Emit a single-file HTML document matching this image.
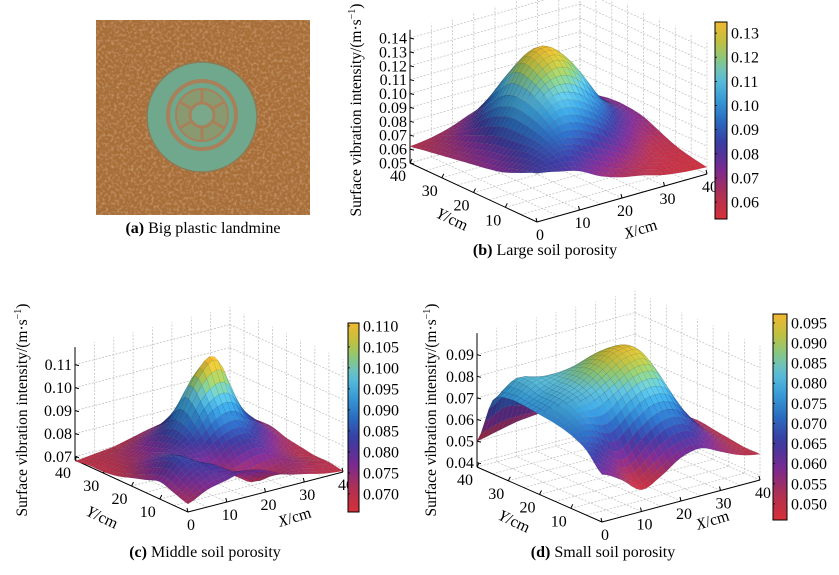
<!DOCTYPE html>
<html><head><meta charset="utf-8"><style>
html,body{margin:0;padding:0;background:#fff;}
svg{display:block;font-family:"Liberation Serif",serif;}
</style></head><body>
<svg id="fig" width="839" height="575" viewBox="0 0 839 575">
<defs>
<filter id="sand" x="0" y="0" width="100%" height="100%">
<feTurbulence type="fractalNoise" baseFrequency="0.35" numOctaves="2" seed="3" result="n"/>
<feColorMatrix in="n" type="matrix" values="0 0 0 0 0.72  0 0 0 0 0.45  0 0 0 0 0.24  0 0 0 1.2 -0.55" result="c"/>
<feComposite in="c" in2="SourceGraphic" operator="atop"/>
</filter>
</defs>
<g>
<rect x="96" y="20" width="214" height="195" fill="#b57a40"/>
<rect x="96" y="20" width="214" height="195" fill="#a86e38" filter="url(#sand)"/>
<circle cx="202" cy="117" r="55" fill="#6fa88c" stroke="#8c7a55" stroke-width="1.5"/>
<circle cx="202" cy="115" r="34" fill="none" stroke="#a8805a" stroke-width="4"/>
<circle cx="202" cy="115" r="26" fill="#8a9a70" stroke="#a8805a" stroke-width="2"/>
<circle cx="202" cy="115" r="12" fill="#7aa88a" stroke="#a8805a" stroke-width="3"/>
<g stroke="#a8805a" stroke-width="3">
<line x1="202" y1="89" x2="202" y2="103"/><line x1="202" y1="127" x2="202" y2="141"/>
<line x1="180" y1="102" x2="192" y2="109"/><line x1="212" y1="121" x2="224" y2="128"/>
<line x1="180" y1="128" x2="192" y2="121"/><line x1="212" y1="109" x2="224" y2="102"/>
</g>
</g>
<text x="203" y="233" text-anchor="middle" font-size="16"><tspan font-weight="bold">(a)</tspan> Big plastic landmine</text>
<text x="545" y="255" text-anchor="middle" font-size="16"><tspan font-weight="bold">(b)</tspan> Large soil porosity</text>
<text x="205" y="557" text-anchor="middle" font-size="16"><tspan font-weight="bold">(c)</tspan> Middle soil porosity</text>
<text x="603" y="557" text-anchor="middle" font-size="16"><tspan font-weight="bold">(d)</tspan> Small soil porosity</text>
</svg>
<script>
// grid axes: Y = 0..40 step 5 (rows), X = 0..40 step 5 (cols)
const gridCoords = [0,5,10,15,20,25,30,35,40];
const axisTicksXY = [0,10,20,30,40];
const zTicksB = [0.05,0.06,0.07,0.08,0.09,0.10,0.11,0.12,0.13,0.14];
const zTicksC = [0.07,0.08,0.09,0.10,0.11];
const zTicksD = [0.04,0.05,0.06,0.07,0.08,0.09];
const cTicksB = [0.06,0.07,0.08,0.09,0.10,0.11,0.12,0.13];
const cTicksC = [0.070,0.075,0.080,0.085,0.090,0.095,0.100,0.105,0.110];
const cTicksD = [0.050,0.055,0.060,0.065,0.070,0.075,0.080,0.085,0.090,0.095];
const surfaceB = [
[0.085,0.082,0.078,0.070,0.065,0.062,0.058,0.056,0.055],
[0.080,0.085,0.088,0.082,0.075,0.068,0.062,0.058,0.057],
[0.075,0.085,0.095,0.098,0.092,0.082,0.070,0.062,0.060],
[0.072,0.082,0.100,0.112,0.110,0.098,0.082,0.070,0.065],
[0.070,0.080,0.102,0.122,0.128,0.115,0.092,0.078,0.070],
[0.068,0.076,0.098,0.125,0.133,0.120,0.095,0.080,0.072],
[0.066,0.072,0.088,0.110,0.118,0.105,0.088,0.078,0.072],
[0.064,0.068,0.076,0.090,0.095,0.090,0.080,0.074,0.070],
[0.062,0.064,0.068,0.074,0.078,0.076,0.072,0.070,0.068]];
const surfaceC = [
[0.072,0.076,0.078,0.080,0.078,0.074,0.072,0.070,0.069],
[0.074,0.080,0.082,0.076,0.070,0.072,0.074,0.072,0.070],
[0.076,0.084,0.080,0.074,0.078,0.080,0.076,0.072,0.070],
[0.074,0.082,0.080,0.080,0.085,0.086,0.080,0.074,0.071],
[0.072,0.078,0.080,0.086,0.096,0.098,0.086,0.078,0.072],
[0.070,0.074,0.078,0.088,0.105,0.111,0.090,0.080,0.074],
[0.069,0.072,0.076,0.082,0.090,0.090,0.084,0.078,0.074],
[0.069,0.071,0.073,0.076,0.080,0.080,0.078,0.076,0.073],
[0.068,0.069,0.070,0.072,0.074,0.075,0.074,0.073,0.072]];
const surfaceD = [
[0.060,0.055,0.048,0.052,0.058,0.060,0.056,0.052,0.050],
[0.068,0.062,0.055,0.062,0.068,0.068,0.060,0.054,0.050],
[0.072,0.072,0.068,0.075,0.080,0.078,0.066,0.056,0.051],
[0.074,0.078,0.080,0.085,0.090,0.088,0.070,0.058,0.052],
[0.075,0.080,0.084,0.090,0.095,0.093,0.074,0.060,0.053],
[0.076,0.080,0.084,0.088,0.092,0.090,0.072,0.058,0.052],
[0.076,0.082,0.082,0.082,0.084,0.082,0.068,0.056,0.050],
[0.072,0.078,0.074,0.070,0.072,0.070,0.062,0.054,0.049],
[0.050,0.052,0.054,0.055,0.056,0.056,0.054,0.050,0.048]];

const NS = 'http://www.w3.org/2000/svg';
const svg = document.getElementById('fig');
function mk(tag, attrs, parent){const e=document.createElementNS(NS,tag);for(const k in attrs)e.setAttribute(k,attrs[k]);(parent||svg).appendChild(e);return e;}
const stops=[[0,[215,48,58]],[0.12,[176,48,80]],[0.25,[122,42,144]],[0.38,[58,58,160]],[0.5,[42,108,192]],[0.62,[58,160,216]],[0.72,[96,192,216]],[0.82,[140,200,120]],[0.9,[192,192,64]],[1,[240,184,48]]];
function cmap(t){t=Math.max(0,Math.min(1,t));for(let i=1;i<stops.length;i++){if(t<=stops[i][0]){const a=stops[i-1],b=stops[i];const f=(t-a[0])/(b[0]-a[0]);return a[1].map((v,j)=>Math.round(v+(b[1][j]-v)*f));}}return stops[stops.length-1][1];}
function cr(p0,p1,p2,p3,t){return 0.5*((2*p1)+(-p0+p2)*t+(2*p0-5*p1+4*p2-p3)*t*t+(-p0+3*p1-3*p2+p3)*t*t*t);}
function interp(g,u,v){
  const n=g.length-1;const cl=i=>Math.max(0,Math.min(n,i));
  const i=Math.min(n-1,Math.floor(u)),j=Math.min(n-1,Math.floor(v));const tu=u-i,tv=v-j;
  const rows=[];for(let r=-1;r<=2;r++){const row=g[cl(j+r)];rows.push(cr(row[cl(i-1)],row[cl(i)],row[cl(i+1)],row[cl(i+2)],tu));}
  return cr(rows[0],rows[1],rows[2],rows[3],tv);}

function panel(name,cfg,data,zTicks,cTicks,fmtZ,fmtC){
  const g=mk('g',{});
  
  
  const P=(X,Y,z)=>[cfg.ox+X/40*cfg.ax[0]+Y/40*cfg.ay[0], cfg.oy+X/40*cfg.ax[1]+Y/40*cfg.ay[1]-(z-cfg.zmin)*cfg.k];
  const line=(a,b,st,w,dash,nm)=>{const l=mk('line',{x1:a[0].toFixed(1),y1:a[1].toFixed(1),x2:b[0].toFixed(1),y2:b[1].toFixed(1),stroke:st,'stroke-width':w},g);if(dash)l.setAttribute('stroke-dasharray',dash);return l;};
  const gc='#bdbdbd';
  gridCoords.forEach(c=>{
    line(P(c,40,cfg.zmin),P(c,40,cfg.ztop),gc,0.7,'2,1.5','grid-line');
    line(P(40,c,cfg.zmin),P(40,c,cfg.ztop),gc,0.7,'2,1.5','grid-line');
    line(P(c,0,cfg.zmin),P(c,40,cfg.zmin),gc,0.7,'2,1.5','grid-line');
    line(P(0,c,cfg.zmin),P(40,c,cfg.zmin),gc,0.7,'2,1.5','grid-line');
  });
  zTicks.forEach(z=>{
    line(P(0,40,z),P(40,40,z),gc,0.7,'2,1.5','grid-line');
    line(P(40,40,z),P(40,0,z),gc,0.7,'2,1.5','grid-line');
  });
  line(P(0,40,cfg.zmin),P(0,40,cfg.ztop),'#000',1,null,'z-axis');
  line(P(0,0,cfg.zmin),P(40,0,cfg.zmin),'#000',1,null,'x-axis');
  line(P(0,0,cfg.zmin),P(0,40,cfg.zmin),'#000',1,null,'y-axis');
  zTicks.forEach(z=>{
    const p=P(0,40,z);line(p,[p[0]+4,p[1]+1],'#000',1,null,'z-tick');
    const t=mk('text',{x:(p[0]-3).toFixed(1),y:(p[1]+5.5).toFixed(1),'text-anchor':'end','font-size':cfg.fs},g);t.textContent=fmtZ(z);
    
  });
  axisTicksXY.forEach(c=>{
    const px=P(c,0,cfg.zmin);line(px,[px[0]-1,px[1]-4],'#000',1,null,'x-tick');
    const tx=mk('text',{x:(px[0]+3).toFixed(1),y:(px[1]+18).toFixed(1),'text-anchor':'middle','font-size':cfg.fs},g);tx.textContent=String(c);
    
    if(c>0){const py=P(0,c,cfg.zmin);line(py,[py[0]+2,py[1]-4],'#000',1,null,'y-tick');
    const ty=mk('text',{x:(py[0]-12).toFixed(1),y:(py[1]+18).toFixed(1),'text-anchor':'middle','font-size':cfg.fs},g);ty.textContent=String(c);
    }
  });
  const N=32, quads=[];
  const Z=[];for(let j=0;j<=N;j++){Z.push([]);for(let i=0;i<=N;i++)Z[j].push(interp(data,i/N*8,j/N*8));}
  for(let j=0;j<N;j++)for(let i=0;i<N;i++)quads.push([i,j]);
  quads.sort((a,b)=>(b[0]+b[1])-(a[0]+a[1]));
  const sg=mk('g',{},g);
  
  
  quads.forEach(([i,j])=>{
    const pts=[[i,j],[i+1,j],[i+1,j+1],[i,j+1]].map(([a,b])=>P(a/N*40,b/N*40,Z[b][a]));
    const zav=(Z[j][i]+Z[j][i+1]+Z[j+1][i]+Z[j+1][i+1])/4;
    const c=cmap((zav-cfg.cmin)/(cfg.cmax-cfg.cmin));
    const dzx=(Z[j][i+1]-Z[j][i]+Z[j+1][i+1]-Z[j+1][i])/2, dzy=(Z[j+1][i]-Z[j][i]+Z[j+1][i+1]-Z[j][i+1])/2;
    const sh=Math.max(0.8,Math.min(1.1,1+(dzy-dzx)*cfg.k*0.02));
    const col='rgb('+c.map(v=>Math.min(255,Math.round(v*sh))).join(',')+')';
    const pg=mk('polygon',{points:pts.map(p=>p[0].toFixed(1)+','+p[1].toFixed(1)).join(' '),fill:col,stroke:'rgba(0,0,0,0.18)','stroke-width':0.3},sg);
    
    
  });
  const cb=cfg.cb;
  const gid='cg'+name;const lg=mk('linearGradient',{id:gid,x1:0,y1:1,x2:0,y2:0},g);
  for(let k=0;k<=20;k++){const c=cmap(k/20);mk('stop',{offset:k/20,'stop-color':'rgb('+c.join(',')+')'},lg);}
  const r=mk('rect',{x:cb.x,y:cb.y,width:cb.w,height:cb.h,fill:'url(#'+gid+')',stroke:'#000','stroke-width':1},g);
  
  cTicks.forEach(v=>{
    const y=cb.y+cb.h*(1-(v-cfg.cmin)/(cfg.cmax-cfg.cmin));
    line([cb.x,y],[cb.x+2,y],'#000',0.8,null,'colorbar-tick');
    const t=mk('text',{x:cb.x+cb.w+4,y:(y+5.5).toFixed(1),'font-size':cfg.fs},g);t.textContent=fmtC(v);
    
  });
  const zt=mk('text',{x:0,y:0,'text-anchor':'middle','font-size':15.5,transform:'translate('+cfg.zt[0]+','+cfg.zt[1]+') rotate(-90)'},g);
  zt.innerHTML='Surface vibration intensity/(m·s<tspan dy="-6" font-size="10">−1</tspan><tspan dy="6">)</tspan>';
  
  const xt=mk('text',{x:0,y:0,'text-anchor':'middle','font-size':16,transform:'translate('+cfg.xt[0]+','+cfg.xt[1]+') rotate(-17)'},g);
  xt.innerHTML='<tspan font-style="italic">X</tspan>/cm';
  
  const yt=mk('text',{x:0,y:0,'text-anchor':'middle','font-size':16,transform:'translate('+cfg.yt[0]+','+cfg.yt[1]+') rotate(25)'},g);
  yt.innerHTML='<tspan font-style="italic">Y</tspan>/cm';
  
}
const f2=v=>v.toFixed(2), f3=v=>v.toFixed(3);
panel('panel-b',{ox:537,oy:222,ax:[170,-48],ay:[-127,-59],k:1389,zmin:0.05,ztop:0.146,cmin:0.053,cmax:0.1346,fs:16,
  cb:{x:715,y:22,w:12,h:197},zt:[361,110],xt:[642,234],yt:[450,224]},surfaceB,zTicksB,cTicksB,f2,f2);
panel('panel-c',{ox:188,oy:512,ax:[155,-40],ay:[-113,-52],k:2300,zmin:0.0685,ztop:0.1176,cmin:0.0657,cmax:0.1107,fs:16,
  cb:{x:348,y:323,w:11,h:189},zt:[27,410],xt:[296,522],yt:[100,522]},surfaceC,zTicksC,cTicksC,f2,f3);
panel('panel-d',{ox:602,oy:522,ax:[158,-42],ay:[-125,-55],k:2160,zmin:0.038,ztop:0.100,cmin:0.046,cmax:0.0972,fs:16,
  cb:{x:773,y:314,w:14,h:206},zt:[436,410],xt:[714,525],yt:[512,526]},surfaceD,zTicksD,cTicksD,f2,f3);
</script>
</body></html>
